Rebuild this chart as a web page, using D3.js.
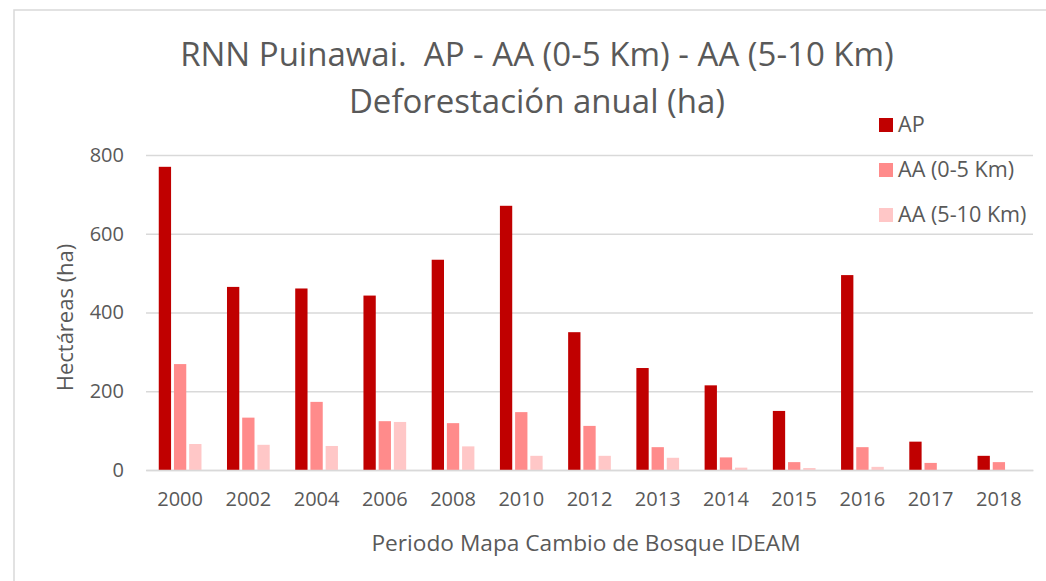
<!DOCTYPE html>
<html>
<head>
<meta charset="utf-8">
<script src="https://cdn.jsdelivr.net/npm/d3@7"></script>
<style>
  html, body { margin: 0; padding: 0; background: #fff; }
  svg { display: block; }
  text { font-family: "Open Sans", sans-serif; fill: #595959; }
</style>
</head>
<body>
<svg id="chart" width="1046" height="581"></svg>
<script>
// Deforestación anual (ha) por periodo
const years = ["2000","2002","2004","2006","2008","2010","2012","2013","2014","2015","2016","2017","2018"];
const seriesNames = ["AP", "AA (0-5 Km)", "AA (5-10 Km)"];
const apValues    = [770, 465, 461, 443, 534, 671, 350, 259, 215, 150, 495, 72, 36];
const aa05Values  = [269, 133, 173, 124, 119, 147, 112, 58, 32, 20, 58, 18, 20];
const aa510Values = [66, 64, 61, 122, 60, 36, 36, 31, 6, 5, 8, 0, 0];
const yTicks = [0, 200, 400, 600, 800];
const colors = ["#C00000", "#FF8B8B", "#FFC7C7"];

const seriesValues = [apValues, aa05Values, aa510Values];
const rows = years.map((y, i) => ({
  year: y,
  values: seriesNames.map((s, k) => ({ key: s, value: seriesValues[k][i] }))
}));

const svg = d3.select("#chart");

// chart frame
svg.append("rect")
  .attr("x", 14).attr("y", 10)
  .attr("width", 1046).attr("height", 600)
  .attr("fill", "#fff")
  .attr("stroke", "#D9D9D9").attr("stroke-width", 1.5);

const plot = { left: 146, right: 1033, top: 155, bottom: 470 };

const x0 = d3.scaleBand().domain(years)
  .range([plot.left, plot.right])
  .paddingInner(0.374).paddingOuter(0.187);
const x1 = d3.scaleBand().domain(seriesNames)
  .range([0, x0.bandwidth()])
  .paddingInner(0.19).paddingOuter(0);
const y = d3.scaleLinear().domain([0, 800]).range([plot.bottom, plot.top]);
const color = d3.scaleOrdinal().domain(seriesNames).range(colors);

// gridlines
const yAxis = d3.axisLeft(y).tickValues(yTicks).tickSize(-(plot.right - plot.left)).tickPadding(22);
const gy = svg.append("g").attr("transform", `translate(${plot.left},0)`).call(yAxis);
gy.select(".domain").remove();
gy.selectAll(".tick line").attr("stroke", "#D9D9D9").attr("stroke-width", 1.5);
gy.selectAll(".tick text").style("font-size", "20px").style("font-family", "'Open Sans', sans-serif").attr("fill", "#595959");

// bars
svg.append("g").selectAll("g")
  .data(rows).join("g")
  .attr("transform", d => `translate(${x0(d.year)},0)`)
  .selectAll("rect")
  .data(d => d.values).join("rect")
  .attr("x", d => x1(d.key))
  .attr("y", d => y(d.value))
  .attr("width", x1.bandwidth())
  .attr("height", d => y(0) - y(d.value))
  .attr("fill", d => color(d.key));

// category axis
const xAxis = d3.axisBottom(x0).tickSize(0).tickPadding(22);
const gx = svg.append("g").attr("transform", `translate(0,${plot.bottom})`).call(xAxis);
gx.select(".domain").attr("stroke", "#D9D9D9").attr("stroke-width", 1.5);
gx.selectAll(".tick text").style("font-size", "20px").style("font-family", "'Open Sans', sans-serif").attr("fill", "#595959");

// titles
svg.append("text").attr("x", 537).attr("y", 66).attr("text-anchor", "middle")
  .style("font-size", "33px").style("white-space", "pre")
  .text("RNN Puinawai.  AP - AA (0-5 Km) - AA (5-10 Km)");
svg.append("text").attr("x", 537).attr("y", 113).attr("text-anchor", "middle")
  .style("font-size", "33px").text("Deforestación anual (ha)");

svg.append("text").attr("x", 586).attr("y", 551).attr("text-anchor", "middle")
  .style("font-size", "22.7px").text("Periodo Mapa Cambio de Bosque IDEAM");

svg.append("text")
  .attr("transform", `translate(73,${(plot.top + plot.bottom) / 2 + 5}) rotate(-90)`)
  .attr("text-anchor", "middle")
  .style("font-size", "22px").text("Hectáreas (ha)");

// legend
const legend = svg.append("g").selectAll("g")
  .data(seriesNames).join("g")
  .attr("transform", (d, i) => `translate(879,${118 + i * 45})`);
legend.append("rect").attr("width", 14).attr("height", 14).attr("fill", d => color(d));
legend.append("text").attr("x", 19).attr("y", 14).style("font-size", "21.6px").text(d => d);
</script>
</body>
</html>
